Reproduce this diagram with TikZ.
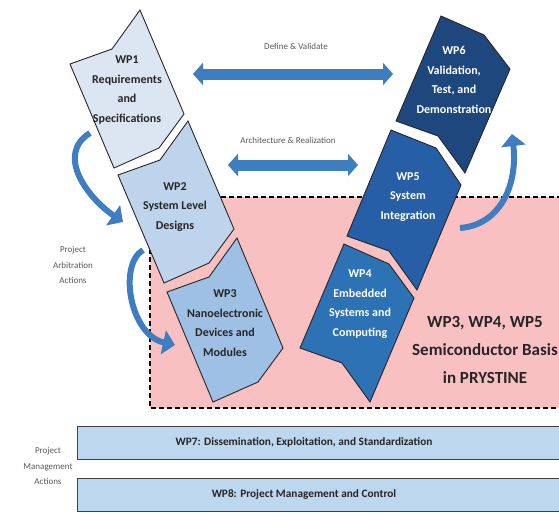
\documentclass[tikz,border=0pt]{standalone}
\usepackage{fontspec}
\setmainfont{Carlito}
\usetikzlibrary{arrows.meta}

\definecolor{wpone}{RGB}{220,230,242}
\definecolor{wptwo}{RGB}{190,212,237}
\definecolor{wpthree}{RGB}{158,192,228}
\definecolor{wpfour}{RGB}{46,114,182}
\definecolor{wpfive}{RGB}{38,95,165}
\definecolor{wpsix}{RGB}{30,72,125}
\definecolor{pinkbox}{RGB}{249,192,194}
\definecolor{barblue}{RGB}{189,215,238}
\definecolor{arrowblue}{RGB}{62,125,192}

\begin{document}
\begin{tikzpicture}[x=1pt,y=-1pt]
\tikzstyle{chev}=[draw=black!85, line width=0.9pt]
\tikzstyle{wptext}=[align=center, text=black!85, font=\fontsize{12}{19.5}\selectfont\bfseries]
\tikzstyle{wpwhite}=[wptext, text=white]
\tikzstyle{graylabel}=[align=center, text=black!65, font=\fontsize{9}{15.5}\selectfont]
\tikzstyle{bar}=[fill=barblue, draw=black!75, line width=1pt]
\tikzstyle{bartext}=[text=black!85, font=\fontsize{11.3}{13}\selectfont\bfseries]
\tikzstyle{bendarrow}=[line width=6pt, draw=arrowblue, -{Triangle[length=12pt,width=24pt]}]
\tikzstyle{flatarrow}=[line width=11pt, draw=arrowblue, {Triangle[length=10pt,width=22pt]}-{Triangle[length=10pt,width=22pt]}]

\useasboundingbox (0,0) rectangle (559,512);
\clip (0,0) rectangle (559,512);

% semiconductor area
\fill[pinkbox] (150,197) rectangle (570,408);
\draw[line width=1.2pt, dash pattern=on 5pt off 3pt] (570,197) -- (150,197) -- (150,408) -- (570,408);

% left arm
\filldraw[chev, fill=wpone] (70,64) -- (112,49) -- (140,10) -- (184,114) -- (159,148) -- (114,168) -- cycle;
\filldraw[chev, fill=wptwo] (118,175) -- (160,160) -- (188,121) -- (234,229) -- (209,263) -- (164,283) -- cycle;
\filldraw[chev, fill=wpthree] (167,292) -- (209,277) -- (237,238) -- (283,348) -- (258,382) -- (213,402) -- cycle;

% right arm
\filldraw[chev, fill=wpfour] (300,348) -- (342,363) -- (370,402) -- (414,298) -- (389,264) -- (344,244) -- cycle;
\filldraw[chev, fill=wpfive] (347,236) -- (389,251) -- (417,290) -- (461,185) -- (436,148) -- (391,130) -- cycle;
\filldraw[chev, fill=wpsix] (396,121) -- (438,136) -- (465,173) -- (510,69) -- (484,35) -- (441,16) -- cycle;

\node[wptext] (wp1) at (127,90) {WP1\\Requirements\\and\\Specifications};
\node[wptext] (wp2) at (175,207) {WP2\\System Level\\Designs};
\node[wptext] (wp3) at (225,323) {WP3\\Nanoelectronic\\Devices and\\Modules};
\node[wpwhite] (wp4) at (360,304) {WP4\\Embedded\\Systems and\\Computing};
\node[wpwhite] (wp5) at (408,197) {WP5\\System\\Integration};
\node[wpwhite] (wp6) at (454,80) {WP6\\Validation,\\Test, and\\Demonstration};

\node[align=center, text=black!85, font=\fontsize{17}{28}\selectfont\bfseries] (basis) at (485,350) {WP3, WP4, WP5\\Semiconductor Basis\\in PRYSTINE};

% V-model arrows
\coordinate (dvl) at (193,74);
\coordinate (dvr) at (393,74);
\coordinate (arl) at (228,165);
\coordinate (arr) at (358,165);
\draw[flatarrow] (dvl) -- (dvr);
\draw[flatarrow] (arl) -- (arr);
\node[graylabel] (define) at (296,46) {Define \& Validate};
\node[graylabel] (archi) at (288,140) {Architecture \& Realization};

% arbitration arrows
\coordinate (a1s) at (90,133);
\coordinate (a1e) at (123,222);
\coordinate (a2s) at (143,250);
\coordinate (a2e) at (175,345);
\coordinate (a3s) at (460,228);
\coordinate (a3e) at (512,134);
\draw[bendarrow] (a1s) .. controls (55,155) and (88,198) .. (a1e);
\draw[bendarrow] (a2s) .. controls (118,265) and (130,335) .. (a2e);
\draw[bendarrow] (a3s) .. controls (500,225) and (518,185) .. (a3e);
\node[graylabel] (arbit) at (73,265) {Project\\Arbitration\\Actions};

% management bars
\foreach \n/\y/\t in {7/426/{WP7: Dissemination, Exploitation, and Standardization}, 8/478/{WP8: Project Management and Control}} {
\draw[bar] (77,\y) rectangle (600,\y+33);
\node[bartext] (wp\n) at (304,\y+16.5) {\t};
}
\node[graylabel] (manage) at (48,466) {Project\\Management\\Actions};

\end{tikzpicture}
\end{document}
